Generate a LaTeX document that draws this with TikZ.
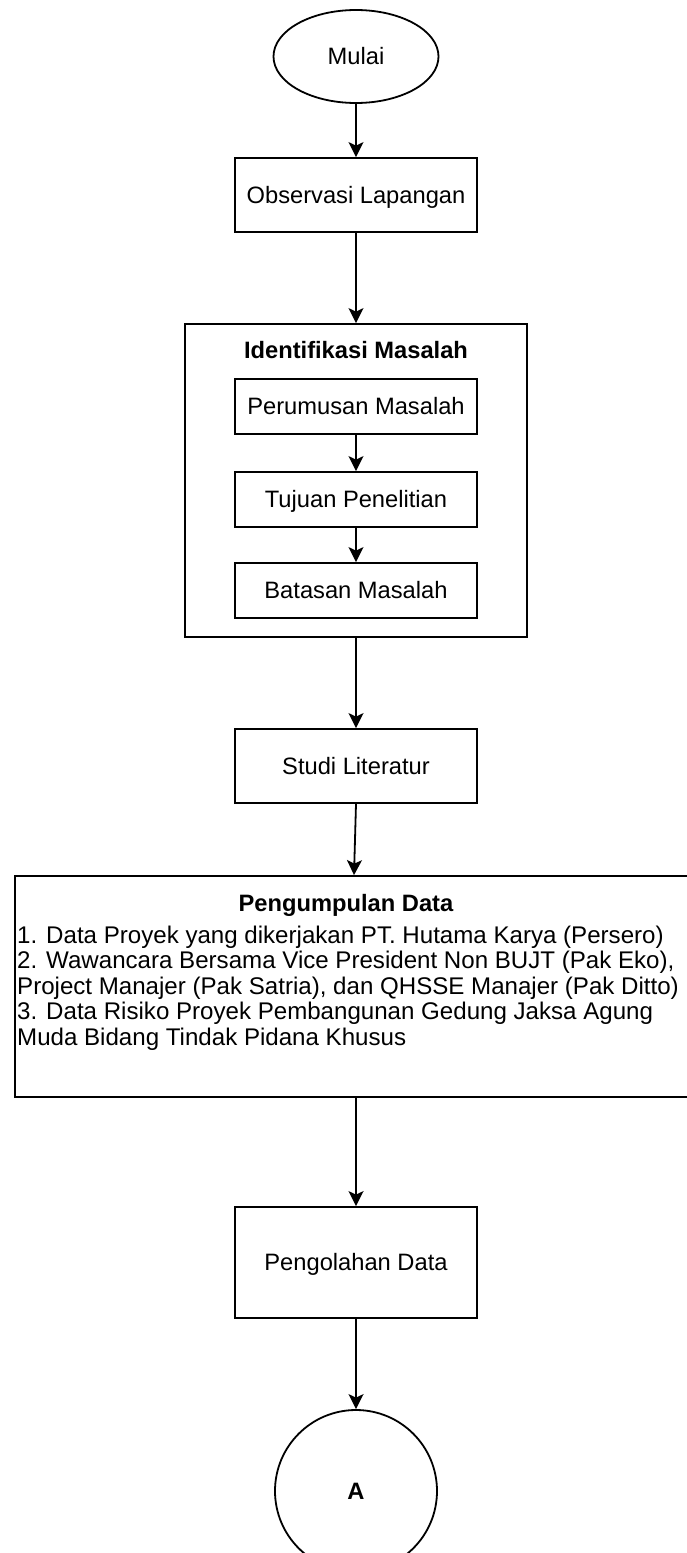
\documentclass[tikz,border=0pt]{standalone}
\usepackage{fontspec}
\setmainfont{Liberation Sans}
\usetikzlibrary{arrows.meta,shapes.geometric,calc}
\begin{document}
\begin{tikzpicture}[x=1pt,y=-1pt,
  txt/.style={font=\fontsize{23.7}{25.5}\selectfont, inner sep=0pt, text height=20pt, text depth=3.4pt},
  box/.style={txt, draw, line width=1.8pt, rectangle},
  oval/.style={txt, draw, line width=1.8pt, ellipse},
  arr/.style={-{Stealth[length=15pt,width=15pt,inset=3.5pt]}, line width=1.8pt},
  listline/.style={font=\fontsize{24.1}{25.5}\selectfont, inner sep=0pt, anchor=base west}
]
\useasboundingbox (0,0) rectangle (686,1553);
\fill[white] (0,0) rectangle (686,1553);

\node[oval, minimum width=165pt, minimum height=93pt] (mulai) at (356,56.5) {Mulai};
\node[box, minimum width=242pt, minimum height=74pt] (obs) at (356,195) {Observasi Lapangan};

\node[box, minimum width=342pt, minimum height=313pt] (ident) at (356,480.5) {};
\node[txt, font=\fontsize{23.7}{25.5}\selectfont\bfseries] (identt) at (356,350) {Identifikasi Masalah};
\node[box, minimum width=242pt, minimum height=55pt] (perum) at (356,406.5) {Perumusan Masalah};
\node[box, minimum width=242pt, minimum height=55pt] (tujuan) at (356,499.5) {Tujuan Penelitian};
\node[box, minimum width=242pt, minimum height=55pt] (batas) at (356,590.5) {Batasan Masalah};

\node[box, minimum width=242pt, minimum height=74pt] (studi) at (356,766) {Studi Literatur};

\node[box, minimum width=673pt, minimum height=221pt] (peng) at (351.5,986.5) {};
\node[txt, font=\fontsize{23.7}{25.5}\selectfont\bfseries] (pengt) at (346,903) {Pengumpulan Data};
\node[listline] (l1) at (17,943) {1. Data Proyek yang dikerjakan PT. Hutama Karya (Persero)};
\node[listline] (l2) at (17,968.5) {2. Wawancara Bersama Vice President Non BUJT (Pak Eko),};
\node[listline] (l3) at (17,994) {Project Manajer (Pak Satria), dan QHSSE Manajer (Pak Ditto)};
\node[listline] (l4) at (17,1019.5) {3. Data Risiko Proyek Pembangunan Gedung Jaksa Agung};
\node[listline] (l5) at (17,1045) {Muda Bidang Tindak Pidana Khusus};

\node[box, minimum width=242pt, minimum height=111pt] (olah) at (356,1262.5) {Pengolahan Data};
\node[oval, minimum width=162pt, minimum height=162pt, font=\fontsize{23.7}{25.5}\selectfont\bfseries] (a) at (356,1491) {A};

\draw[arr] (mulai.south) -- (obs.north);
\draw[arr] (obs.south) -- (ident.north);
\draw[arr] (perum.south) -- (tujuan.north);
\draw[arr] (tujuan.south) -- (batas.north);
\draw[arr] (ident.south) -- (studi.north);
\draw[arr] (studi.south) -- ([xshift=-2pt]studi.south |- peng.north);
\draw[arr] (olah.north |- peng.south) -- (olah.north);
\draw[arr] (olah.south) -- (a.north);
\end{tikzpicture}
\end{document}
